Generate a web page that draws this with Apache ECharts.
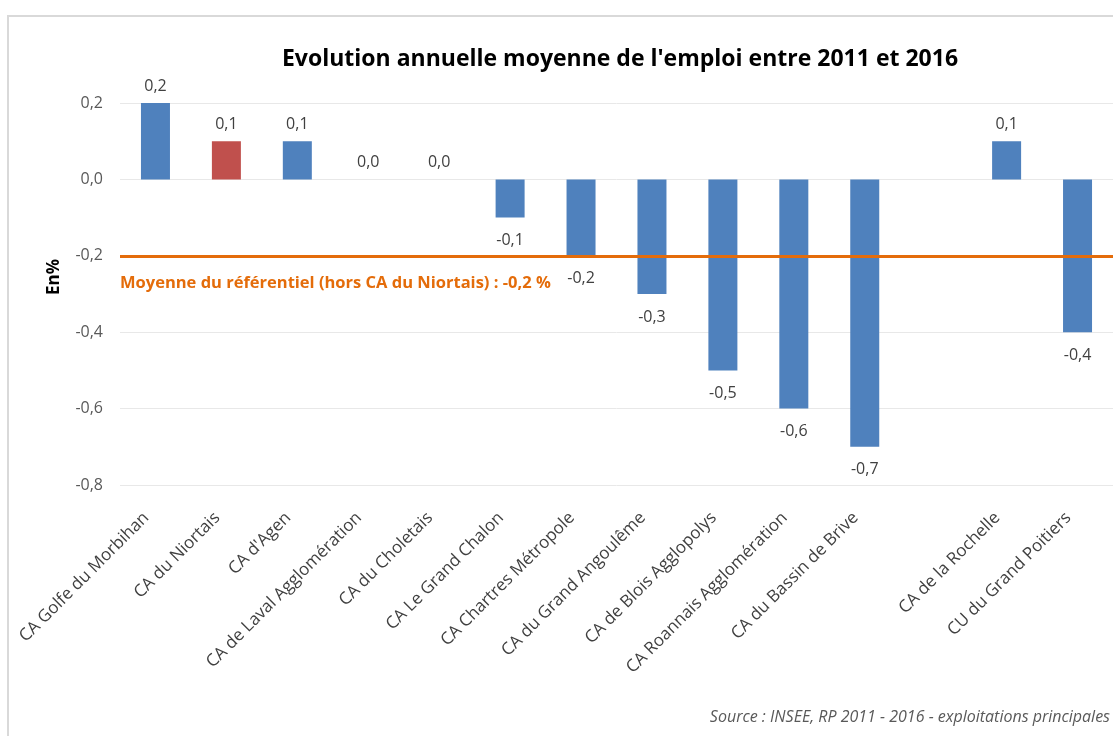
<!DOCTYPE html>
<html>
<head>
<meta charset="utf-8">
<script src="https://cdn.jsdelivr.net/npm/echarts@6/dist/echarts.min.js"></script>
<style>
html,body{margin:0;padding:0;background:#fff;}
#chart{width:1113px;height:736px;}
</style>
</head>
<body>
<div id="chart"></div>
<script>
const categories = [
  "CA Golfe du Morbihan", "CA du Niortais", "CA d'Agen", "CA de Laval Agglomération",
  "CA du Choletais", "CA Le Grand Chalon", "CA Chartres Métropole", "CA du Grand Angoulême",
  "CA de Blois Agglopolys", "CA Roannais Agglomération", "CA du Bassin de Brive", "",
  "CA de la Rochelle", "CU du Grand Poitiers"
];
const values = [0.2, 0.1, 0.1, 0.0, 0.0, -0.1, -0.2, -0.3, -0.5, -0.6, -0.7, null, 0.1, -0.4];
const highlighted = "CA du Niortais";
const referenceValue = -0.2;
const referenceLabel = "Moyenne du référentiel (hors CA du Niortais) : -0,2 %";
const yTicks = [-0.8, -0.6, -0.4, -0.2, 0.0, 0.2];
const titleText = "Evolution annuelle moyenne de l'emploi entre 2011 et 2016";
const yName = "En%";
const sourceText = "Source : INSEE, RP 2011 - 2016 - exploitations principales";

const fmt = v => v.toFixed(1).replace('.', ',').replace('-0,0', '0,0');
const FONT = "'Open Sans', 'Noto Sans', sans-serif";

const seriesData = values.map((v, i) => {
  if (v === null) return null;
  return {
    value: v,
    itemStyle: { color: categories[i] === highlighted ? '#C0504D' : '#4F81BD' },
    label: { position: v < 0 ? 'bottom' : 'top', distance: v < 0 ? 15 : 9 }
  };
});

const chart = echarts.init(document.getElementById('chart'), null, { renderer: 'canvas' });
chart.setOption({
  animation: false,
  backgroundColor: '#ffffff',
  title: {
    text: titleText,
    left: 615, top: 43, textAlign: 'center',
    textStyle: { fontFamily: FONT, fontSize: 23, fontWeight: 'bold', color: '#000' }
  },
  grid: { left: 120, top: 103, width: 1000, height: 382, containLabel: false },
  xAxis: {
    type: 'category',
    data: categories,
    axisLine: { show: false },
    axisTick: { show: false },
    axisLabel: {
      interval: 0, rotate: 45, margin: 21, padding: [0, 13, 0, 0],
      fontFamily: FONT, fontSize: 17, color: '#404040'
    }
  },
  yAxis: {
    type: 'value',
    min: yTicks[0], max: yTicks[yTicks.length - 1], interval: 0.2,
    axisLine: { show: false },
    axisTick: { show: false },
    splitLine: { lineStyle: { color: '#e8e8e8', width: 1 } },
    axisLabel: {
      margin: 17, fontFamily: FONT, fontSize: 16, color: '#595959',
      formatter: v => fmt(v)
    }
  },
  series: [{
    type: 'bar',
    data: seriesData,
    barWidth: 29,
    label: {
      show: true,
      fontFamily: FONT, fontSize: 16, color: '#404040',
      formatter: p => fmt(p.value)
    },
    markLine: {
      silent: true,
      symbol: ['none', 'none'],
      lineStyle: { color: '#E46C0A', width: 3, type: 'solid' },
      label: {
        show: true, position: 'insideStartBottom', distance: [0, 19],
        formatter: referenceLabel,
        fontFamily: FONT, fontSize: 16.5, fontWeight: 'bold', color: '#E46C0A'
      },
      data: [{ yAxis: referenceValue }],
      z: 10
    }
  }],
  graphic: [
    { type: 'rect', shape: { x: 8, y: 16, width: 1200, height: 800 },
      style: { fill: 'none', stroke: '#d9d9d9', lineWidth: 2 }, silent: true, z: -1 },
    { type: 'text', x: 54, y: 277, rotation: Math.PI / 2, z: 10,
      style: { text: yName, fontFamily: FONT, fontSize: 17, fontWeight: 'bold', fill: '#000',
               align: 'center', verticalAlign: 'middle' } },
    { type: 'text', right: 3, top: 709, z: 10,
      style: { text: sourceText, fontFamily: FONT, fontSize: 16, fontStyle: 'italic', fill: '#595959' } }
  ]
});
</script>
</body>
</html>
